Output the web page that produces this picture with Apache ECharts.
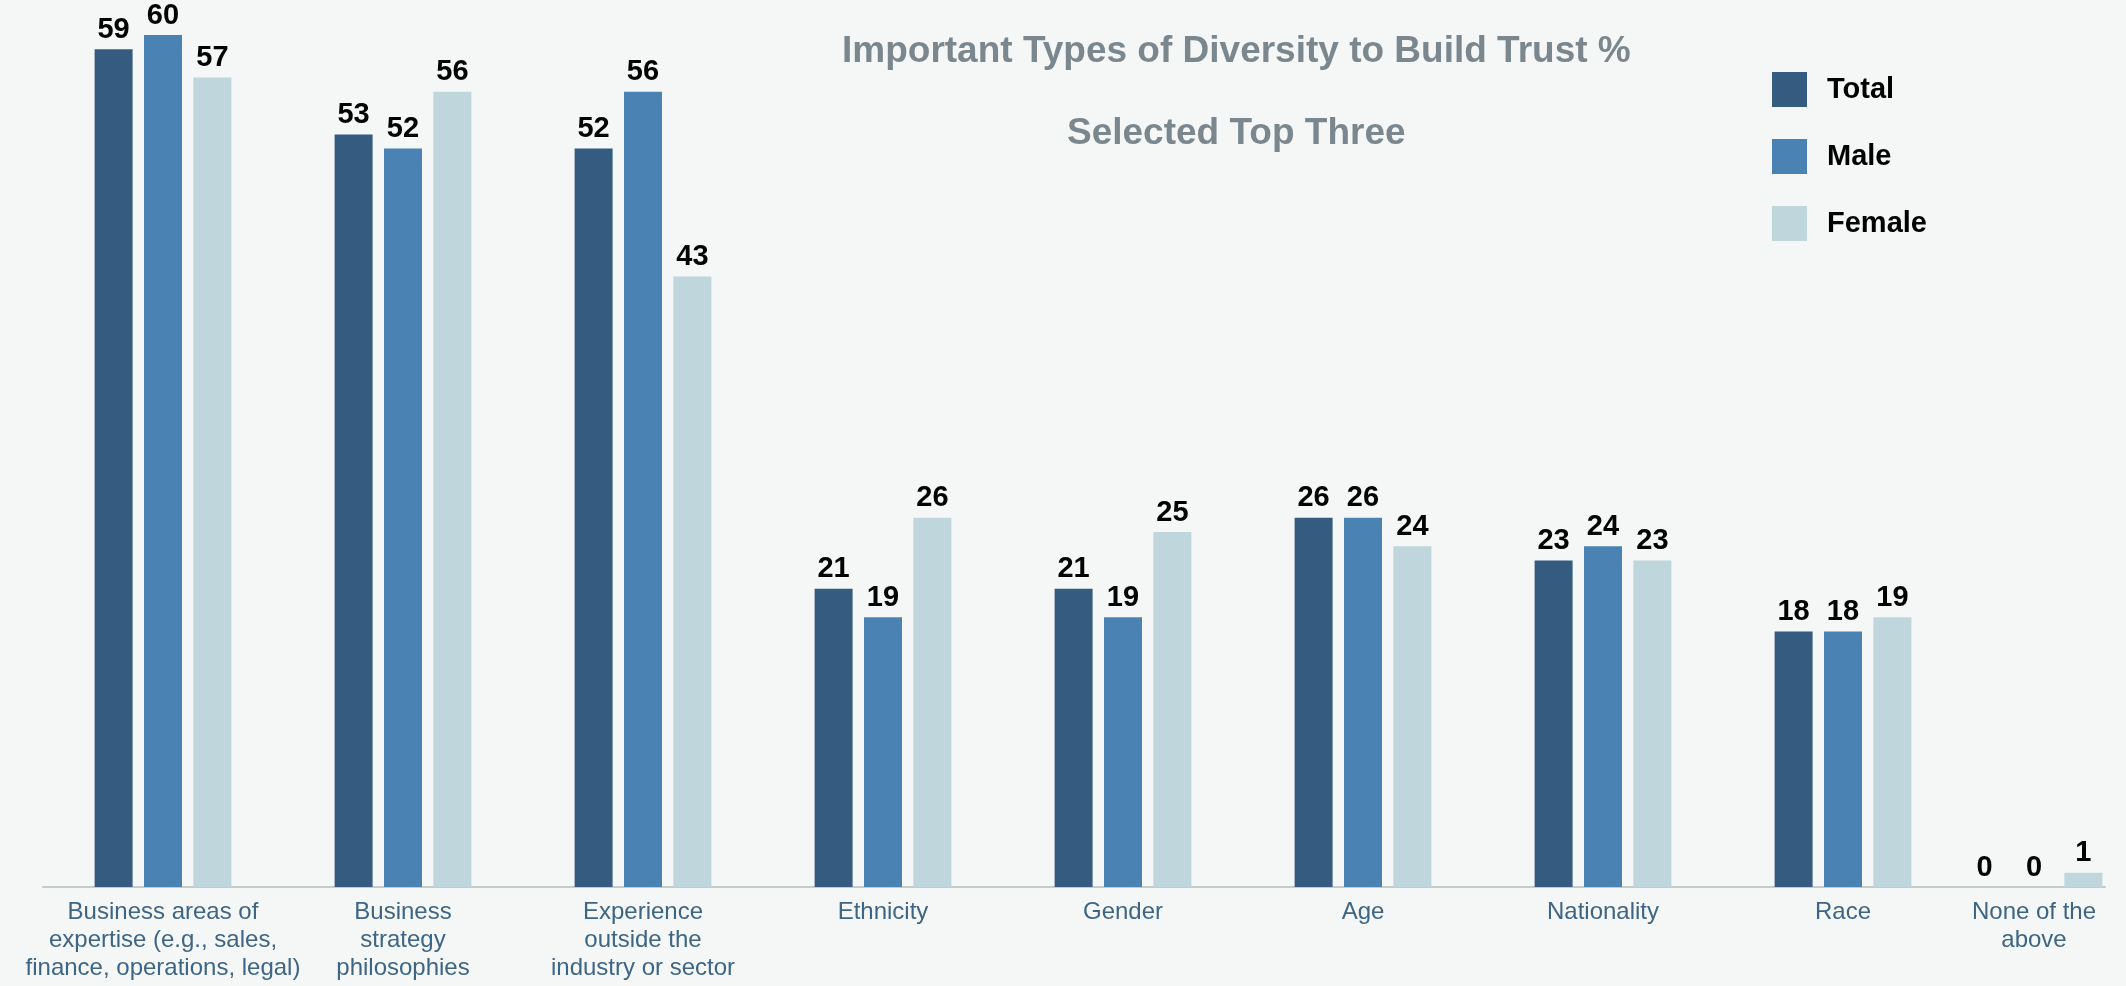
<!DOCTYPE html>
<html>
<head>
<meta charset="utf-8">
<script src="https://cdn.jsdelivr.net/npm/echarts@6/dist/echarts.min.js"></script>
<style>
html,body{margin:0;padding:0;background:#f5f7f6;overflow:hidden;}
#chart{width:2126px;height:986px;}
</style>
</head>
<body>
<div id="chart"></div>
<script>
const categories = [
  "Business areas of\nexpertise (e.g., sales,\nfinance, operations, legal)",
  "Business\nstrategy\nphilosophies",
  "Experience\noutside the\nindustry or sector",
  "Ethnicity",
  "Gender",
  "Age",
  "Nationality",
  "Race",
  "None of the\nabove"
];
const totalValues  = [59, 53, 52, 21, 21, 26, 23, 18, 0];
const maleValues   = [60, 52, 56, 19, 19, 26, 24, 18, 0];
const femaleValues = [57, 56, 43, 26, 25, 24, 23, 19, 1];
const seriesNames = ["Total", "Male", "Female"];
const titleText = "Important Types of Diversity to Build Trust %";
const subtitleText = "Selected Top Three";

const colors = ["#355b80", "#4b82b4", "#bfd7dc"];
const FONT = "Liberation Sans, Arial, sans-serif";

// the last category sits in a narrower slot in the reference, so it gets its own grid
const SPLIT = 8;

const chart = echarts.init(document.getElementById('chart'), null, {renderer: 'canvas'});

const labelStyle = {
  show: true,
  position: 'top',
  distance: 5,
  color: '#000',
  fontWeight: 'bold',
  fontSize: 29,
  fontFamily: FONT
};

function makeSeries(name, data, color, idx) {
  return {
    name: name,
    type: 'bar',
    data: data,
    xAxisIndex: idx,
    yAxisIndex: idx,
    barWidth: 38,
    barGap: '30%',
    itemStyle: {color: color},
    label: labelStyle,
    emphasis: {disabled: true}
  };
}

function makeXAxis(idx, data) {
  return {
    type: 'category',
    gridIndex: idx,
    data: data,
    axisLine: {show: true, lineStyle: {color: '#c3cbcb', width: 2}},
    axisTick: {show: false},
    axisLabel: {
      interval: 0,
      margin: 11,
      color: '#3c6586',
      fontSize: 24,
      lineHeight: 28,
      fontFamily: FONT,
      align: 'center'
    }
  };
}

function makeYAxis(idx) {
  return {type: 'value', gridIndex: idx, min: 0, max: 60, show: false, splitLine: {show: false}};
}

const valueSets = [totalValues, maleValues, femaleValues];
const series = [];
[0, 1].forEach(function (g) {
  valueSets.forEach(function (vals, i) {
    const part = g === 0 ? vals.slice(0, SPLIT) : vals.slice(SPLIT);
    series.push(makeSeries(seriesNames[i], part, colors[i], g));
  });
});

chart.setOption({
  backgroundColor: '#f5f7f6',
  animation: false,
  color: colors,
  title: [
    {text: titleText, left: 842, top: 33, padding: 0,
     textStyle: {color: '#7b878e', fontSize: 37, fontWeight: 'bold', fontFamily: FONT}},
    {text: subtitleText, left: 1067, top: 115, padding: 0,
     textStyle: {color: '#7b878e', fontSize: 37, fontWeight: 'bold', fontFamily: FONT}}
  ],
  legend: {
    orient: 'vertical',
    left: 1772,
    top: 72,
    padding: 0,
    itemWidth: 35,
    itemHeight: 35,
    itemGap: 32,
    icon: 'rect',
    textStyle: {color: '#000', fontSize: 29, fontWeight: 'bold', fontFamily: FONT, padding: [0, 0, 0, 15]},
    data: seriesNames
  },
  grid: [
    {left: 43, width: 1920, top: 35, bottom: 99, containLabel: false},
    {left: 1963, width: 142, top: 35, bottom: 99, containLabel: false}
  ],
  xAxis: [
    makeXAxis(0, categories.slice(0, SPLIT)),
    makeXAxis(1, categories.slice(SPLIT))
  ],
  yAxis: [makeYAxis(0), makeYAxis(1)],
  series: series
});
</script>
</body>
</html>
